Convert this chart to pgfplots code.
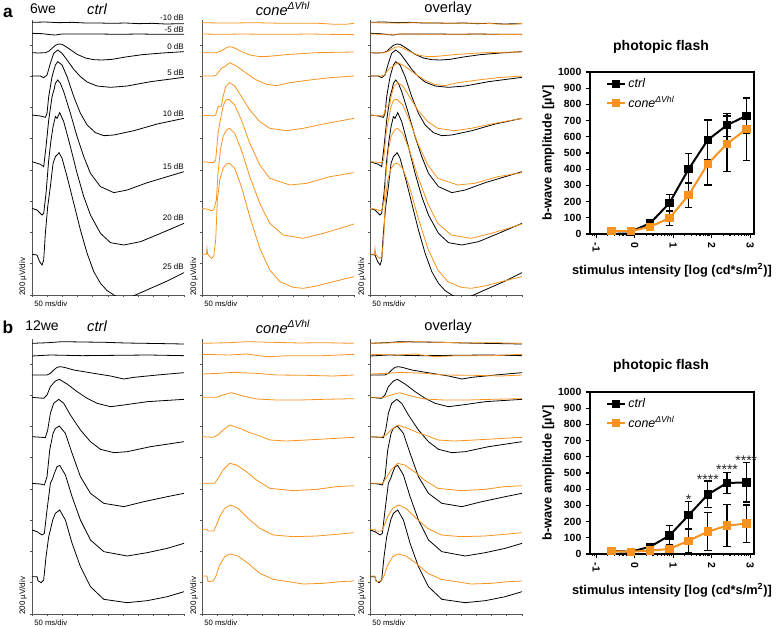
\documentclass[border=0pt]{standalone}
\usepackage{pgfplots}
\pgfplotsset{compat=1.18}
\usepackage{pgfplotstable}
\usepackage{fontspec}
\setmainfont{Liberation Sans}
\definecolor{conec}{RGB}{247,147,30}
\definecolor{axg}{RGB}{85,85,85}

% ---------- ERG traces, row a (6 weeks); x: time units (45.5 = 50 ms), y: offset units (93.75 = 200 uV)
\pgfplotstableread[row sep=\\]{x y\\ 0 818\\ 40 819\\ 80 817\\ 120 818\\ 160 816\\ 200 816\\ 240 815\\ 280 816\\ 320 814\\ 360 815\\ 400 813\\ 455 814\\}\aCa
\pgfplotstableread[row sep=\\]{x y\\ 0 785\\ 30 784\\ 55 781\\ 70 780\\ 90 783\\ 130 783\\ 200 783\\ 260 782\\ 320 783\\ 380 782\\ 455 782\\}\aCb
\pgfplotstableread[row sep=\\]{x y\\ 0 727\\ 20 726\\ 40 727\\ 50 731\\ 60 740\\ 70 749\\ 80 753\\ 90 752\\ 100 746\\ 115 736\\ 135 722\\ 160 711\\ 185 706\\ 210 705\\ 240 707\\ 280 714\\ 330 721\\ 390 726\\ 455 730\\}\aCc
\pgfplotstableread[row sep=\\]{x y\\ 0 657\\ 25 657\\ 35 652\\ 45 660\\ 55 695\\ 65 725\\ 77 735\\ 90 725\\ 105 705\\ 125 677\\ 145 655\\ 165 639\\ 195 627\\ 235 623\\ 285 627\\ 355 640\\ 455 653\\}\aCd
\pgfplotstableread[row sep=\\]{x y\\ 0 540\\ 25 537\\ 40 533\\ 45 545\\ 50 595\\ 60 655\\ 70 690\\ 77 700\\ 90 690\\ 105 655\\ 125 595\\ 145 545\\ 165 510\\ 190 487\\ 215 478\\ 245 480\\ 305 493\\ 375 513\\ 455 530\\}\aCe
\pgfplotstableread[row sep=\\]{x y\\ 0 400\\ 25 392\\ 35 385\\ 42 445\\ 50 525\\ 60 595\\ 67 620\\ 70 635\\ 77 645\\ 85 635\\ 95 610\\ 115 545\\ 135 475\\ 155 415\\ 175 365\\ 205 325\\ 245 307\\ 285 315\\ 345 337\\ 405 355\\ 455 370\\}\aCf
\pgfplotstableread[row sep=\\]{x y\\ 0 260\\ 15 255\\ 30 240\\ 35 245\\ 42 305\\ 50 405\\ 57 465\\ 63 505\\ 70 535\\ 75 530\\ 83 547\\ 95 520\\ 115 445\\ 135 365\\ 155 295\\ 175 240\\ 205 185\\ 235 157\\ 275 150\\ 325 160\\ 385 185\\ 455 215\\}\aCg
\pgfplotstableread[row sep=\\]{x y\\ 0 122\\ 15 120\\ 23 100\\ 30 90\\ 35 105\\ 40 185\\ 47 265\\ 55 325\\ 63 395\\ 70 415\\ 75 420\\ 81 427\\ 90 410\\ 105 355\\ 125 275\\ 145 195\\ 165 125\\ 185 70\\ 205 35\\ 225 13\\ 245 0\\ 275 -15\\ 310 0\\ 355 20\\ 405 42\\ 455 67\\}\aCh

\pgfplotstableread[row sep=\\]{x y\\ 0 817\\ 50 816\\ 100 816\\ 150 817\\ 200 816\\ 250 815\\ 300 815\\ 350 815\\ 400 812\\ 430 812\\ 455 815\\}\aVa
\pgfplotstableread[row sep=\\]{x y\\ 0 783\\ 60 782\\ 120 783\\ 200 782\\ 260 782\\ 320 783\\ 380 782\\ 455 781\\}\aVb
\pgfplotstableread[row sep=\\]{x y\\ 0 727\\ 43 727\\ 55 731\\ 65 737\\ 75 743\\ 85 745\\ 98 741\\ 113 733\\ 143 720\\ 173 715\\ 200 716\\ 263 722\\ 343 727\\ 455 729\\}\aVc
\pgfplotstableread[row sep=\\]{x y\\ 0 657\\ 33 657\\ 43 660\\ 58 680\\ 68 685\\ 83 697\\ 103 687\\ 133 665\\ 163 645\\ 193 632\\ 223 628\\ 263 637\\ 323 645\\ 383 652\\ 455 657\\}\aVd
\pgfplotstableread[row sep=\\]{x y\\ 0 540\\ 33 537\\ 41 540\\ 48 565\\ 58 567\\ 63 595\\ 71 625\\ 83 637\\ 98 627\\ 118 595\\ 143 555\\ 173 520\\ 203 500\\ 253 493\\ 303 500\\ 363 513\\ 455 530\\}\aVe
\pgfplotstableread[row sep=\\]{x y\\ 0 400\\ 33 397\\ 41 405\\ 48 485\\ 55 525\\ 63 565\\ 71 585\\ 81 587\\ 98 570\\ 118 525\\ 143 455\\ 173 390\\ 203 350\\ 263 330\\ 313 335\\ 383 355\\ 455 367\\}\aVf
\pgfplotstableread[row sep=\\]{x y\\ 0 260\\ 18 257\\ 28 253\\ 35 255\\ 43 285\\ 48 365\\ 55 435\\ 63 475\\ 73 495\\ 83 500\\ 98 485\\ 118 435\\ 143 355\\ 173 275\\ 203 215\\ 243 180\\ 303 170\\ 363 185\\ 413 200\\ 455 213\\}\aVg
\pgfplotstableread[row sep=\\]{x y\\ 0 122\\ 13 122\\ 15 140\\ 17 122\\ 28 110\\ 35 115\\ 41 165\\ 46 285\\ 53 345\\ 63 380\\ 73 393\\ 83 395\\ 98 380\\ 118 325\\ 143 235\\ 173 140\\ 203 75\\ 233 40\\ 273 23\\ 303 20\\ 343 27\\ 393 40\\ 455 55\\}\aVh

% ---------- ERG traces, row b (12 weeks)
\pgfplotstableread[row sep=\\]{x y\\ 0 812\\ 50 814\\ 90 817\\ 150 816\\ 220 815\\ 280 813\\ 340 812\\ 400 811\\ 455 810\\}\bCa
\pgfplotstableread[row sep=\\]{x y\\ 0 774\\ 55 777\\ 150 775\\ 250 776\\ 350 777\\ 455 775\\}\bCb
\pgfplotstableread[row sep=\\]{x y\\ 0 717\\ 45 717\\ 55 722\\ 65 732\\ 75 740\\ 85 742\\ 100 739\\ 125 732\\ 185 722\\ 235 714\\ 275 705\\ 305 710\\ 375 717\\ 455 724\\}\bCc
\pgfplotstableread[row sep=\\]{x y\\ 0 650\\ 35 647\\ 45 657\\ 55 682\\ 70 699\\ 82 704\\ 105 690\\ 135 667\\ 165 647\\ 195 632\\ 235 622\\ 275 627\\ 345 637\\ 455 644\\}\bCd
\pgfplotstableread[row sep=\\]{x y\\ 0 532\\ 30 530\\ 40 529\\ 47 552\\ 55 602\\ 65 632\\ 80 644\\ 95 632\\ 115 597\\ 145 552\\ 175 517\\ 205 494\\ 245 484\\ 285 487\\ 355 502\\ 455 517\\}\bCe
\pgfplotstableread[row sep=\\]{x y\\ 0 392\\ 25 390\\ 37 387\\ 45 412\\ 53 492\\ 63 542\\ 70 557\\ 82 564\\ 100 542\\ 120 482\\ 145 412\\ 175 362\\ 215 332\\ 275 322\\ 335 337\\ 405 352\\ 455 362\\}\bCf
\pgfplotstableread[row sep=\\]{x y\\ 0 252\\ 15 247\\ 30 237\\ 37 242\\ 45 312\\ 55 392\\ 62 407\\ 67 422\\ 75 442\\ 83 446\\ 100 417\\ 120 352\\ 145 282\\ 175 222\\ 215 187\\ 285 174\\ 345 184\\ 405 197\\ 455 212\\}\bCg
\pgfplotstableread[row sep=\\]{x y\\ 0 112\\ 15 112\\ 18 100\\ 27 94\\ 35 102\\ 42 172\\ 50 232\\ 55 252\\ 62 282\\ 70 302\\ 83 312\\ 100 282\\ 120 212\\ 145 142\\ 175 82\\ 215 44\\ 285 34\\ 345 40\\ 405 52\\ 455 67\\}\bCh

\pgfplotstableread[row sep=\\]{x y\\ 0 812\\ 83 814\\ 133 817\\ 213 815\\ 293 813\\ 363 814\\ 455 812\\}\bVa
\pgfplotstableread[row sep=\\]{x y\\ 0 779\\ 83 777\\ 133 780\\ 193 772\\ 263 775\\ 363 775\\ 455 779\\}\bVb
\pgfplotstableread[row sep=\\]{x y\\ 0 720\\ 50 722\\ 93 725\\ 163 722\\ 223 717\\ 313 716\\ 393 714\\ 455 717\\}\bVc
\pgfplotstableread[row sep=\\]{x y\\ 0 650\\ 43 650\\ 63 657\\ 88 664\\ 123 654\\ 163 645\\ 223 642\\ 293 642\\ 363 644\\ 455 646\\}\bVd
\pgfplotstableread[row sep=\\]{x y\\ 0 532\\ 33 530\\ 48 537\\ 63 552\\ 83 567\\ 113 557\\ 143 544\\ 173 534\\ 203 522\\ 253 519\\ 313 522\\ 383 526\\ 455 530\\}\bVe
\pgfplotstableread[row sep=\\]{x y\\ 0 392\\ 38 392\\ 48 407\\ 63 432\\ 83 452\\ 103 447\\ 133 427\\ 163 402\\ 203 377\\ 273 370\\ 343 374\\ 403 382\\ 455 385\\}\bVf
\pgfplotstableread[row sep=\\]{x y\\ 0 254\\ 15 254\\ 18 249\\ 35 249\\ 41 262\\ 53 292\\ 68 317\\ 85 327\\ 108 317\\ 138 287\\ 173 257\\ 213 237\\ 273 232\\ 343 234\\ 403 239\\ 455 244\\}\bVg
\pgfplotstableread[row sep=\\]{x y\\ 0 114\\ 15 114\\ 18 97\\ 33 99\\ 41 112\\ 53 147\\ 68 172\\ 83 180\\ 108 174\\ 138 152\\ 173 122\\ 213 104\\ 303 90\\ 363 92\\ 413 97\\ 455 99\\}\bVh

\tikzset{astk/.style={font=\fontsize{10.5}{12}\selectfont, anchor=base, text=black!85, inner sep=0pt}}

\pgfplotsset{
  erg/.style={anchor=south west, scale only axis, width=114pt, height=206.25pt,
    xmin=0, xmax=455, ymin=0, ymax=825,
    axis x line*=bottom, axis y line*=left,
    axis line style={-, axg, line width=0.6pt},
    xtick={0,45.5,...,455}, ytick={0,93.75,...,750},
    xticklabels={}, yticklabels={},
    tick align=outside, major tick length=1.6pt,
    tick style={axg, line width=0.5pt}, clip=true},
  ct/.style={black, line width=0.6pt, no markers},
  co/.style={conec, line width=0.6pt, no markers},
  flash/.style={anchor=south west, scale only axis, width=123pt, height=121.5pt,
    xmin=-1.16, xmax=3.1, ymin=0, ymax=1000,
    ytick={0,100,...,1000}, xtick={-1,0,1,2,3},
    minor xtick={-1.097,-1.046,-0.699,-0.523,-0.398,-0.301,-0.222,-0.155,-0.097,-0.046,
      0.301,0.477,0.602,0.699,0.778,0.845,0.903,0.954,
      1.301,1.477,1.602,1.699,1.778,1.845,1.903,1.954,
      2.301,2.477,2.602,2.699,2.778,2.845,2.903,2.954},
    tick pos=left, tick align=outside, major tick length=3pt, minor tick length=1.7pt,
    axis line style={line width=1.1pt}, tick style={black, line width=0.9pt},
    /pgf/number format/assume math mode=true, /pgf/number format/1000 sep={},
    tick label style={font=\fontsize{7.8}{9}\selectfont\bfseries},
    x tick label style={rotate=-90, anchor=west},
    ylabel={b-wave amplitude [µV]},
    xlabel={stimulus intensity [log (cd*s/m\textsuperscript{2})]},
    label style={font=\fontsize{9.6}{11}\selectfont\bfseries},
    ylabel shift=-4pt,
    xlabel style={yshift=-1.5pt},
    legend style={at={(0.09,0.985)}, anchor=north west, draw=none, fill=none,
      font=\fontsize{9.3}{11}\selectfont\itshape, row sep=1pt, inner sep=1pt},
    legend cell align=left,
    legend image code/.code={\draw[mark repeat=2,mark phase=2,##1] plot coordinates {(0cm,0cm) (0.23cm,0cm) (0.46cm,0cm)};},
    clip=false},
  fl/.style={line width=1.5pt, mark=square*, mark size=2.4pt, mark options={solid},
    error bars/.cd, y dir=both, y explicit,
    error bar style={line width=1pt, black},
    error mark options={rotate=90, mark size=2.8pt, line width=1pt, black}},
}

\begin{document}
\begin{tikzpicture}
\path[use as bounding box] (0,0) rectangle (583.5pt,-470.25pt);

% ===== row a =====
\begin{axis}[erg, at={(24pt,-221.25pt)}]
\addplot[ct] table {\aCa}; \addplot[ct] table {\aCb}; \addplot[ct] table {\aCc}; \addplot[ct] table {\aCd};
\addplot[ct] table {\aCe}; \addplot[ct] table {\aCf}; \addplot[ct] table {\aCg}; \addplot[ct] table {\aCh};
\end{axis}
\begin{axis}[erg, at={(151.5pt,-221.25pt)}]
\addplot[co] table {\aVa}; \addplot[co] table {\aVb}; \addplot[co] table {\aVc}; \addplot[co] table {\aVd};
\addplot[co] table {\aVe}; \addplot[co] table {\aVf}; \addplot[co] table {\aVg}; \addplot[co] table {\aVh};
\end{axis}
\begin{axis}[erg, at={(277.5pt,-221.25pt)}]
\addplot[ct] table {\aCa}; \addplot[ct] table {\aCb}; \addplot[ct] table {\aCc}; \addplot[ct] table {\aCd};
\addplot[ct] table {\aCe}; \addplot[ct] table {\aCf}; \addplot[ct] table {\aCg}; \addplot[ct] table {\aCh};
\addplot[co] table {\aVa}; \addplot[co] table {\aVb}; \addplot[co] table {\aVc}; \addplot[co] table {\aVd};
\addplot[co] table {\aVe}; \addplot[co] table {\aVf}; \addplot[co] table {\aVg}; \addplot[co] table {\aVh};
\end{axis}

% ===== row b =====
\begin{axis}[erg, at={(24pt,-460.5pt)}]
\addplot[ct] table {\bCa}; \addplot[ct] table {\bCb}; \addplot[ct] table {\bCc}; \addplot[ct] table {\bCd};
\addplot[ct] table {\bCe}; \addplot[ct] table {\bCf}; \addplot[ct] table {\bCg}; \addplot[ct] table {\bCh};
\end{axis}
\begin{axis}[erg, at={(151.5pt,-460.5pt)}]
\addplot[co] table {\bVa}; \addplot[co] table {\bVb}; \addplot[co] table {\bVc}; \addplot[co] table {\bVd};
\addplot[co] table {\bVe}; \addplot[co] table {\bVf}; \addplot[co] table {\bVg}; \addplot[co] table {\bVh};
\end{axis}
\begin{axis}[erg, at={(277.5pt,-460.5pt)}]
\addplot[ct] table {\bCa}; \addplot[ct] table {\bCb}; \addplot[ct] table {\bCc}; \addplot[ct] table {\bCd};
\addplot[ct] table {\bCe}; \addplot[ct] table {\bCf}; \addplot[ct] table {\bCg}; \addplot[ct] table {\bCh};
\addplot[co] table {\bVa}; \addplot[co] table {\bVb}; \addplot[co] table {\bVc}; \addplot[co] table {\bVd};
\addplot[co] table {\bVe}; \addplot[co] table {\bVf}; \addplot[co] table {\bVg}; \addplot[co] table {\bVh};
\end{axis}

% ===== photopic flash, a =====
\begin{axis}[flash, at={(442.5pt,-175.5pt)}]
\addplot[black, fl] coordinates {(-0.6,18) +- (0,5) (-0.1,15) +- (0,5) (0.4,66) +- (0,10)
  (0.9,190) += (0,55) -= (0,50) (1.4,400) += (0,97) -= (0,90) (1.9,581) += (0,122) -= (0,121)
  (2.4,672) += (0,73) -= (0,72) (2.9,730) += (0,110) -= (0,110)};
\addlegendentry{ctrl}
\addplot[conec, fl] coordinates {(-0.6,20) +- (0,5) (-0.1,17) +- (0,5) (0.4,45) +- (0,8)
  (0.9,97) +- (0,45) (1.4,239) +- (0,76) (1.9,433) +- (0,130)
  (2.4,557) +- (0,172) (2.9,647) +- (0,192)};
\addlegendentry{cone\textsuperscript{ΔVhl}}
\end{axis}

% ===== photopic flash, b =====
\begin{axis}[flash, at={(442.5pt,-415.5pt)}]
\addplot[black, fl] coordinates {(-0.6,19) +- (0,8) (-0.1,14) +- (0,5) (0.4,45) +- (0,8)
  (0.9,113) += (0,62) -= (0,58) (1.4,239) += (0,85) -= (0,84) (1.9,367) += (0,84) -= (0,82)
  (2.4,439) += (0,66) -= (0,64) (2.9,441) += (0,125) -= (0,121)};
\addlegendentry{ctrl}
\addplot[conec, fl] coordinates {(-0.6,17) +- (0,5) (-0.1,14) +- (0,5) (0.4,21) +- (0,5)
  (0.9,31) +- (0,15) (1.4,82) += (0,72) -= (0,74) (1.9,138) += (0,120) -= (0,118)
  (2.4,175) +- (0,130) (2.9,188) +- (0,115)};
\addlegendentry{cone\textsuperscript{ΔVhl}}
\node[astk] at (axis cs:1.4,304) {*};
\node[astk] at (axis cs:1.9,427) {****};
\node[astk] at (axis cs:2.4,489) {****};
\node[astk] at (axis cs:2.9,547) {****};
\end{axis}

% ===== texts (pixel grid of the reference) =====
\begin{scope}[x=0.75pt,y=-0.75pt]
\node[font=\fontsize{13}{15}\selectfont\bfseries] at (8,13) {a};
\node[font=\fontsize{10.5}{12}\selectfont] at (43,9) {6we};
\node[font=\fontsize{11}{13}\selectfont\itshape] at (97,9) {ctrl};
\node[font=\fontsize{11}{13}\selectfont\itshape] at (283,9) {cone\textsuperscript{ΔVhl}};
\node[font=\fontsize{11}{13}\selectfont] at (448,9) {overlay};
\node[font=\fontsize{13}{15}\selectfont\bfseries] at (8,327) {b};
\node[font=\fontsize{10.5}{12}\selectfont] at (42,326) {12we};
\node[font=\fontsize{11}{13}\selectfont\itshape] at (97,326) {ctrl};
\node[font=\fontsize{11}{13}\selectfont\itshape] at (283,327) {cone\textsuperscript{ΔVhl}};
\node[font=\fontsize{11}{13}\selectfont] at (448,327) {overlay};
% dB labels
\foreach \t/\yy in {-10 dB/18, -5 dB/30, 0 dB/47, 5 dB/73, 10 dB/114, 15 dB/167, 20 dB/218, 25 dB/267}
  \node[font=\fontsize{6}{7}\selectfont, anchor=east, inner sep=0pt] at (184,\yy) {\t};
% scale bars
\foreach \xx/\yy in {34/304, 204/304, 372/304, 34/623, 204/623, 372/623}
  \node[font=\fontsize{5.8}{7}\selectfont, anchor=west, inner sep=0pt] at (\xx,\yy) {50 ms/div};
\foreach \xx/\yy in {23/296, 194/296, 362/296, 23/615, 194/615, 362/615}
  \node[font=\fontsize{6}{7}\selectfont, rotate=90, anchor=west, inner sep=0pt] at (\xx,\yy) {200 µV/div};
\node[font=\fontsize{10.5}{12}\selectfont\bfseries] at (661,47) {photopic flash};
\node[font=\fontsize{10.5}{12}\selectfont\bfseries] at (661,366) {photopic flash};
\end{scope}
\end{tikzpicture}
\end{document}
